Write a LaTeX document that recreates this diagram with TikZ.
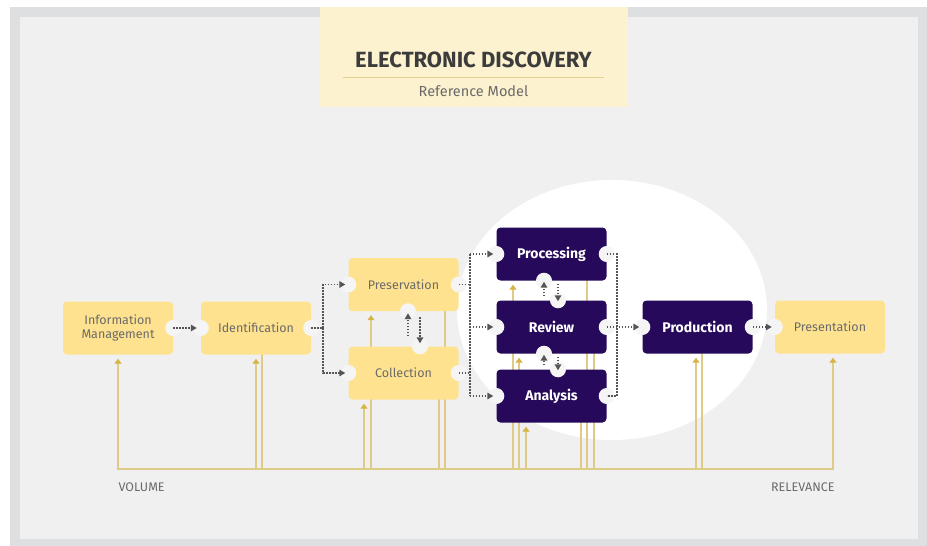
\documentclass[tikz,border=0pt]{standalone}
\usepackage{fontspec}
\setmainfont{Fira Sans}
\usetikzlibrary{arrows.meta}
\definecolor{frameGray}{HTML}{DEDFE0}
\definecolor{paneGray}{HTML}{F0F0F0}
\definecolor{notchGray}{HTML}{F5F5F5}
\definecolor{titleCream}{HTML}{FDF2CF}
\definecolor{ruleGold}{HTML}{E3D08E}
\definecolor{stepYellow}{HTML}{FFE28F}
\definecolor{stepPurple}{HTML}{26095A}
\definecolor{wireGold}{HTML}{DFCB85}
\definecolor{tipGold}{HTML}{D6B447}
\definecolor{dotGray}{HTML}{555555}
\definecolor{inkGray}{HTML}{6A6A6A}
\definecolor{headInk}{HTML}{3C3C3C}
\pgfdeclarelayer{back}
\pgfdeclarelayer{wires}
\pgfsetlayers{back,wires,main}

\begin{document}
\begin{tikzpicture}
    [
        x=1pt, y=-1pt,
        light/.style = {shape=rectangle, fill=stepYellow, rounded corners=4pt, minimum width=110pt, minimum height=53pt, inner sep=0pt, align=center, text=inkGray, font=\fontsize{12.5}{13.5}\selectfont},
        dark/.style = {light, fill=stepPurple, text=white, font=\fontsize{14}{15}\selectfont\bfseries},
        notch/.style = {fill=notchGray},
        flow/.style = {draw=dotGray, line width=1.6pt, dash pattern=on 1.6pt off 1.4pt, -{Triangle[length=6pt,width=6.5pt]}},
        flowline/.style = {flow, -},
        feed/.style = {draw=wireGold, line width=1.4pt, -{Triangle[length=5pt,width=7pt,color=tipGold]}},
        tie/.style = {draw=wireGold, line width=1.4pt, line cap=rect},
        label/.style = {text=inkGray, font=\fontsize{12.5}{14}\selectfont},
    ]

    \useasboundingbox (0,0) rectangle (927,546);

    \begin{pgfonlayer}{back}
        \fill[frameGray] (10,7) rectangle (927,546);
        \fill[paneGray] (20,17) rectangle (918,539);
        \fill[titleCream] (320,7) rectangle (628,107);
        \fill[white] (612,310) ellipse [x radius=155, y radius=130];
    \end{pgfonlayer}

    \node[text=headInk, font=\fontsize{22}{26}\selectfont\bfseries] (head) at (473.5,60) {ELECTRONIC DISCOVERY};
    \draw[ruleGold, line width=1pt] (343,77) -- (604,77);
    \node[text=inkGray, font=\fontsize{14.5}{17}\selectfont] (sub) at (473.5,91) {Reference Model};

    \node[light] (info) at (118,328)     {Information\\Management};
    \node[light] (ident) at (256,328)    {Identification};
    \node[light] (pres) at (403.5,284.5) {Preservation};
    \node[light] (coll) at (403.5,373)   {Collection};
    \node[dark] (proc) at (551.5,254)    {Processing};
    \node[dark] (rev) at (551.5,327)     {Review};
    \node[dark] (ana) at (551.5,396)     {Analysis};
    \node[dark] (prod) at (697.5,327)    {Production};
    \node[light] (prst) at (830,327)     {Presentation};

    \node[label, anchor=west] (vol) at (115,487)  {VOLUME};
    \node[label, anchor=east] (relv) at (838,487) {RELEVANCE};

    \coordinate (base) at (0,469);

    \begin{pgfonlayer}{wires}
        \draw[tie] (info.south |- base) -- ([xshift=3pt]prst.south |- base);
        \foreach \n/\dx in {info/0, ident/0, pres/-32.5, coll/-39.5, proc/-38.5, rev/-32.5, ana/-25.5, prod/-1.5, prst/3}
            \draw[feed] ([xshift=\dx pt]\n.south |- base) -- ([xshift=\dx pt, yshift=-4pt]\n.south);
        \foreach \n/\dx in {ident/6, pres/41.5, coll/35.5, proc/35.5, rev/42.5, ana/29.5, prod/4.5}
            \draw[tie] ([xshift=\dx pt]\n.south |- base) -- ([xshift=\dx pt]\n.south);
    \end{pgfonlayer}

    \foreach \p in {info.east, ident.west, ident.east, pres.west, pres.east, coll.west, coll.east, proc.west, proc.east, rev.west, rev.east, ana.west, ana.east, prod.west, prod.east, prst.west}
        \fill[notch] (\p) circle (8);
    \fill[notch] ([xshift=4.5pt]pres.south) circle (8);
    \fill[notch] ([xshift=16.5pt]coll.north) circle (8);
    \fill[notch] ([xshift=-7.5pt]proc.south) circle (8);
    \fill[notch] ([xshift=6.5pt]rev.north) circle (8);
    \fill[notch] ([xshift=-7.5pt]rev.south) circle (8);
    \fill[notch] ([xshift=6.5pt]ana.north) circle (8);

    \draw[flow] (info.east) -- ([xshift=-4pt]ident.west);

    \coordinate (fork1) at ([xshift=12pt]ident.east);
    \draw[flowline] (ident.east) -- (fork1);
    \draw[flow] (fork1) |- ([xshift=-3pt]pres.west);
    \draw[flow] (fork1) |- ([xshift=-3pt]coll.west);

    \coordinate (fork2) at ([xshift=11pt]pres.east);
    \draw[flowline] (pres.east) -- (fork2);
    \draw[flowline] (coll.east) -- (fork2 |- coll.east);
    \draw[flowline] (fork2 |- proc.west) -- (fork2 |- ana.west);
    \foreach \n in {proc, rev, ana}
        \draw[flow] (fork2 |- \n.west) -- ([xshift=-3pt]\n.west);

    \coordinate (fork3) at ([xshift=10pt]proc.east);
    \draw[flowline] (proc.east) -- (fork3) -- (fork3 |- ana.east) -- (ana.east);
    \draw[flow] (rev.east) -- ([xshift=-3pt]prod.west);
    \draw[flow] (prod.east) -- ([xshift=-3pt]prst.west);

    \draw[flow] ([xshift=4.5pt,yshift=10pt]coll.north) -- ([xshift=4.5pt,yshift=-2pt]pres.south);
    \draw[flow] ([xshift=16.5pt,yshift=-6pt]pres.south) -- ([xshift=16.5pt,yshift=3pt]coll.north);
    \draw[flow] ([xshift=-7.5pt,yshift=4pt]rev.north) -- ([xshift=-7.5pt,yshift=-1pt]proc.south);
    \draw[flow] ([xshift=6.5pt,yshift=-3pt]proc.south) -- ([xshift=6.5pt,yshift=-1pt]rev.north);
    \draw[flow] ([xshift=-7.5pt,yshift=4pt]ana.north) -- ([xshift=-7.5pt,yshift=-1pt]rev.south);
    \draw[flow] ([xshift=6.5pt,yshift=-3pt]rev.south) -- ([xshift=6.5pt,yshift=-1pt]ana.north);

\end{tikzpicture}
\end{document}
